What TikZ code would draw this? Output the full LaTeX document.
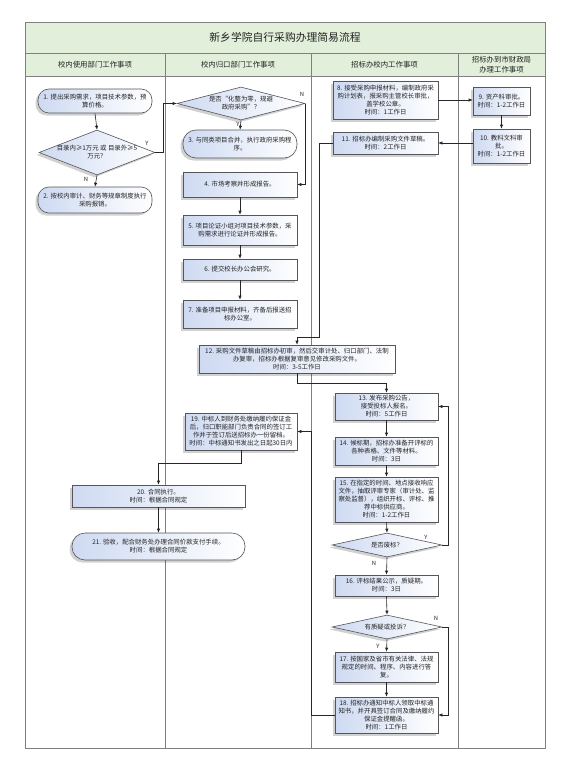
\documentclass[tikz,border=0pt]{standalone}
\usepackage{fontspec}
\newfontfamily\cjk{Noto Sans CJK SC}
\usetikzlibrary{arrows.meta,shapes.geometric,shadows}
\definecolor{hdrgreen}{RGB}{226,239,218}
\definecolor{gridgray}{RGB}{128,128,128}
\definecolor{boxblue}{RGB}{206,218,242}
\definecolor{boxedge}{RGB}{85,85,90}
\definecolor{txt}{RGB}{35,35,35}
\tikzset{
  boxshadow/.style={drop shadow={shadow xshift=-2.5pt, shadow yshift=-2.5pt, opacity=0.18, fill=black}},
  flowbox/.style={draw=boxedge, line width=0.6pt, left color=boxblue, right color=white,
    inner sep=1pt, align=center, font=\cjk\fontsize{6.4}{8}\selectfont, text=txt, boxshadow},
  roundbox/.style={flowbox, rounded corners=11pt},
  dianode/.style={diamond, draw=boxedge, line width=0.6pt, left color=boxblue, right color=white,
    inner sep=0pt, boxshadow},
  diatext/.style={align=center, font=\cjk\fontsize{6.4}{8}\selectfont, text=txt, inner sep=0pt},
  ynlabel/.style={font=\cjk\fontsize{5.8}{7}\selectfont, text=txt, inner sep=0pt},
  hdrtext/.style={align=center, font=\cjk\fontsize{7.4}{10}\selectfont, text=txt, inner sep=0pt},
  arr/.style={draw=black!85, line width=0.6pt, -{Latex[length=4pt,width=3.4pt]}},
  gridline/.style={draw=gridgray, line width=0.8pt}
}
\begin{document}
\begin{tikzpicture}[x=1pt,y=-1pt]
\useasboundingbox (0,0) rectangle (570,768);
\fill[white] (0,0) rectangle (570,768);
% table
\fill[hdrgreen] (25,22) rectangle (545,76);
\draw[gridline] (25,22) rectangle (545,748);
\draw[gridline] (25,53) -- (545,53);
\draw[gridline] (25,76) -- (545,76);
\draw[gridline] (165,53) -- (165,748);
\draw[gridline] (311,53) -- (311,748);
\draw[gridline] (458,53) -- (458,748);
\node[hdrtext, font=\cjk\fontsize{10.8}{12}\selectfont] (title) at (285,37.5) {新乡学院自行采购办理简易流程};
\node[hdrtext] (h1) at (95,64.5) {校内使用部门工作事项};
\node[hdrtext] (h2) at (238,64.5) {校内归口部门工作事项};
\node[hdrtext] (h3) at (384.5,64.5) {招标办校内工作事项};
\node[hdrtext, font=\cjk\fontsize{7.4}{9.5}\selectfont] (h4) at (501.5,64.5) {招标办到市财政局\\办理工作事项};

% column 1
\node[roundbox, minimum width=114pt, minimum height=24pt] (b1) at (95,101) {1. 提出采购需求，项目技术参数，预\\算价格。};
\node[dianode, minimum width=116pt, minimum height=45pt] (d1) at (97,152.5) {};
\node[diatext] (d1t) at (d1) {目录内≥1万元 或 目录外≥5\\万元？};
\node[roundbox, minimum width=114pt, minimum height=26pt] (b2) at (95,200) {2. 按校内审计、财务等规章制度执行\\采购报销。};

% column 2
\node[dianode, minimum width=128pt, minimum height=33pt] (d2) at (241,103.5) {};
\node[diatext] (d2t) at (d2) {是否“化整为零，规避\\政府采购”？};
\node[roundbox, rounded corners=13pt, minimum width=114pt, minimum height=28pt] (b3) at (240,144) {3. 与同类项目合并，执行政府采购程\\序。};
\node[flowbox, minimum width=114pt, minimum height=25pt] (b4) at (240,184.5) {4. 市场考察并形成报告。};
\node[flowbox, minimum width=114pt, minimum height=30pt] (b5) at (240,230) {5. 项目论证小组对项目技术参数，采\\购需求进行论证并形成报告。};
\node[flowbox, minimum width=114pt, minimum height=21pt] (b6) at (240,269.5) {6. 提交校长办公会研究。};
\node[flowbox, minimum width=114pt, minimum height=28pt] (b7) at (240,314) {7. 准备项目申报材料，齐备后报送招\\标办公室。};

% column 3 / 4 top
\node[flowbox, minimum width=105pt, minimum height=38pt] (b8) at (385.5,100) {8. 接受采购申报材料，编制政府采\\购计划表，报采购主管校长审批，\\盖学校公章。\\时间：1工作日};
\node[flowbox, minimum width=57pt, minimum height=28pt] (b9) at (501.5,101) {9. 资产科审批。\\时间：1-2工作日};
\node[flowbox, minimum width=57pt, minimum height=34pt] (b10) at (501.5,146) {10. 教科文科审\\批。\\时间：1-2工作日};
\node[flowbox, minimum width=105pt, minimum height=22pt] (b11) at (385.5,143) {11. 招标办编制采购文件草稿。\\时间：2工作日};

\node[flowbox, minimum width=196pt, minimum height=28pt] (b12) at (297,359) {12. 采购文件草稿由招标办初审，然后交审计处、归口部门、法制\\办复审，招标办根据复审意见修改采购文件。\\时间：3-5工作日};

\node[flowbox, minimum width=103pt, minimum height=27pt] (b13) at (386.5,406.5) {13. 发布采购公告，\\接受投标人报名。\\时间：5工作日};
\node[flowbox, minimum width=103pt, minimum height=28pt] (b14) at (386.5,451) {14. 候标期，招标办准备开评标的\\各种表格、文件等材料。\\时间：3日};
\node[flowbox, minimum width=103pt, minimum height=45pt] (b15) at (386.5,499.5) {15. 在指定的时间、地点接收响应\\文件，抽取评审专家（审计处、监\\察处监督），组织开标、评标、推\\荐中标供应商。\\时间：1-2工作日};
\node[dianode, minimum width=110pt, minimum height=24pt] (d3) at (387,545) {};
\node[diatext] (d3t) at (d3) {是否废标？};
\node[flowbox, minimum width=103pt, minimum height=21pt] (b16) at (386.5,585.5) {16. 评标结果公示，质疑期。\\时间：3日};
\node[dianode, minimum width=110pt, minimum height=24pt] (d4) at (387,627) {};
\node[diatext] (d4t) at (d4) {有质疑或投诉？};
\node[flowbox, minimum width=103pt, minimum height=30pt] (b17) at (386.5,667) {17. 按国家及省市有关法律、法规\\规定的时间、程序、内容进行答\\复。};
\node[flowbox, minimum width=103pt, minimum height=36pt] (b18) at (386.5,715) {18. 招标办通知中标人领取中标通\\知书，并开具签订合同及缴纳履约\\保证金提醒函。\\时间：1工作日};

% lower left
\node[flowbox, minimum width=112pt, minimum height=37pt] (b19) at (241,431.5) {19. 中标人到财务处缴纳履约保证金\\后，归口职能部门负责合同的签订工\\作并于签订后送招标办一份留档。\\时间：中标通知书发出之日起30日内};
\node[flowbox, minimum width=173pt, minimum height=22pt] (b20) at (158.5,496) {20. 合同执行。\\时间：根据合同规定};
\node[roundbox, rounded corners=13pt, minimum width=173pt, minimum height=27pt] (b21) at (158.5,546.5) {21. 验收，配合财务处办理合同价款支付手续。\\时间：根据合同规定};

% connectors
\draw[arr] (b1.south) -- (d1.north);
\draw[arr] (d1.south) -- (b2.north);
\node[ynlabel] (lN1) at (86,179) {N};
\coordinate (c1) at (163,152.5);
\draw[arr] (d1.east) -- (c1) |- (d2.west);
\node[ynlabel] (lY1) at (147,143) {Y};

\draw[arr] (d2.east) |- (b4.east);
\node[ynlabel] (lN2) at (302,94) {N};
\draw[arr] (d2.south) -- (b3.north);
\node[ynlabel] (lY2) at (238,124.5) {Y};
\draw[arr] (b4.south) -- (b5.north);
\draw[arr] (b5.south) -- (b6.north);
\draw[arr] (b6.south) -- (b7.north);

\draw[arr] (b8.east) -- (b8.east -| b9.west);
\draw[arr] (b9.south) -- (b10.north);
\draw[arr] (b11.east -| b10.west) -- (b11.east);
\coordinate (c2) at (319,143);
\coordinate (c3) at (319,337);
\coordinate (c4) at (297,337);
\draw[arr] (b11.west) -- (c2) -- (c3) -- (c4) -- (b12.north);
\coordinate (c5) at (297,383);
\draw[arr] (b12.south) -- (c5) -| (b13.north);

\draw[arr] (b13.south) -- (b14.north);
\draw[arr] (b14.south) -- (b15.north);
\draw[arr] (b15.south) -- (d3.north);
\coordinate (c6) at (448,545);
\draw[arr] (d3.east) -- (c6) |- (b13.east);
\node[ynlabel] (lY3) at (426,537) {Y};
\draw[arr] (d3.south) -- (b16.north);
\node[ynlabel] (lN3) at (374,563) {N};
\draw[arr] (b16.south) -- (d4.north);
\coordinate (c7) at (448,627);
\draw[arr] (d4.east) -- (c7) |- (b18.east);
\node[ynlabel] (lN4) at (436,618) {N};
\draw[arr] (d4.south) -- (b17.north);
\node[ynlabel] (lY4) at (378,646) {Y};
\draw[arr] (b17.south) -- (b18.north);

\coordinate (c8) at (311,715);
\draw[arr] (b18.west) -- (c8) |- (b19.east);
\coordinate (c9) at (241,463);
\draw[arr] (b19.south) -- (c9) -| (b20.north);
\draw[arr] (b20.south) -- (b21.north);
\end{tikzpicture}
\end{document}
